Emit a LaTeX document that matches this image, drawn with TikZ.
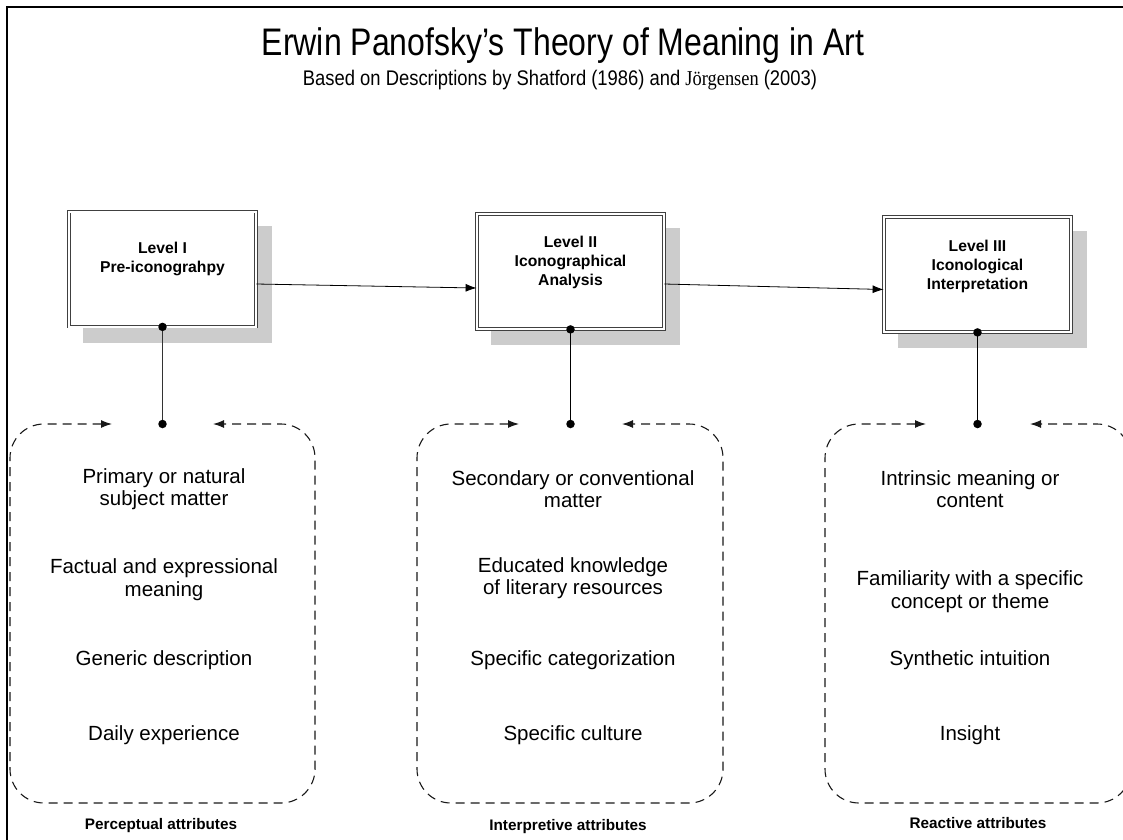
\documentclass[tikz,border=0pt]{standalone}
\usepackage{fontspec}
\setmainfont{Liberation Sans}
\newfontfamily\serifjf{Liberation Serif}
\usetikzlibrary{arrows.meta,calc}
\tikzset{
  levelbox/.style={draw=black!75, double=white, double distance=2pt, line width=0.8pt, fill=white, minimum width=187pt, minimum height=115pt, inner sep=0pt},
  shadowbox/.style={fill=black!20, draw=none, minimum width=189pt, minimum height=117pt, inner sep=0pt},
  leveltext/.style={font=\fontsize{15.7}{19}\selectfont\bfseries, align=center, inner sep=0pt},
  bodytext/.style={font=\fontsize{20.5}{22.5}\selectfont, align=center, inner sep=0pt},
  attrtext/.style={font=\fontsize{15.3}{18}\selectfont\bfseries, inner sep=0pt},
  flowarrow/.style={-{Latex[length=11pt,width=8pt]}, line width=0.8pt, black},
  dashbox/.style={{Latex[length=11pt,width=8pt]}-{Latex[length=11pt,width=8pt]}, dash pattern=on 9pt off 6pt, line width=1.1pt, black!90, rounded corners=34pt},
  dot/.style={circle, fill=black, inner sep=0pt, minimum size=8.5pt},
}
\begin{document}
\begin{tikzpicture}[x=1pt,y=-1pt]
\useasboundingbox (0,0) rectangle (1123,839);
% frame
\draw[line width=2pt] (7,860) -- (7,7) -- (1135,7);
% title
\node[font=\fontsize{32}{36}\selectfont, inner sep=0pt] (title) at (563,46) {\scalebox{1}[1.2]{Erwin Panofsky’s Theory of Meaning in Art}};
\node[font=\fontsize{18.4}{22}\selectfont, inner sep=0pt] (subtitle) at (560,80) {\scalebox{1}[1.15]{Based on Descriptions by Shatford (1986) and {\serifjf Jörgensen} (2003)}};
% shadows
\node[shadowbox] (s1) at (177.5,284) {};
\node[shadowbox] (s2) at (585.5,286.5) {};
\node[shadowbox] (s3) at (992.5,289.5) {};
% level boxes
\node[levelbox] (l1) at (162.5,269) {};
\node[levelbox] (l2) at (570.5,271.5) {};
\node[levelbox] (l3) at (977.5,274.5) {};
\node[leveltext] (t1) at (162.5,258.5) {Level I\\Pre-iconograhpy};
\node[leveltext] (t2) at (570.5,262) {Level II\\Iconographical\\Analysis};
\node[leveltext] (t3) at (977.5,266) {Level III\\Iconological\\Interpretation};
% flow arrows
\draw[flowarrow] ([yshift=-15pt]l1.east) -- ([yshift=-16.5pt]l2.west);
\draw[flowarrow] ([yshift=-12.5pt]l2.east) -- ([yshift=-15pt]l3.west);
% vertical connectors
\coordinate (d1) at (162.5,424);
\coordinate (d2) at (570.5,424);
\coordinate (d3) at (977.5,424);
\draw[line width=1pt, black!80] (l1.south) -- (d1);
\draw[line width=1pt] (l2.south) -- (d2);
\draw[line width=1pt] (l3.south) -- (d3);
\node[dot] (p1) at (l1.south) {};
\node[dot] (p2) at (l2.south) {};
\node[dot] (p3) at (l3.south) {};
\node[dot] (q1) at (d1) {};
\node[dot] (q2) at (d2) {};
\node[dot] (q3) at (d3) {};
% dashed boxes
\draw[dashbox] (112,424) -- (10,424) -- (10,803) -- (315,803) -- (315,424) -- (213,424);
\draw[dashbox] (519,424) -- (417,424) -- (417,803) -- (723,803) -- (723,424) -- (622,424);
\draw[dashbox] (926,424) -- (825,424) -- (825,803) -- (1131,803) -- (1131,424) -- (1030,424);
% box texts
\node[bodytext] (a1) at (164,489) {Primary or natural\\subject matter};
\node[bodytext] (a2) at (164,579.5) {Factual and expressional\\meaning};
\node[bodytext] (a3) at (164,660) {Generic description};
\node[bodytext] (a4) at (164,735) {Daily experience};
\node[bodytext] (b1) at (573,489) {Secondary or conventional\\matter};
\node[bodytext] (b2) at (573,578) {Educated knowledge\\of literary resources};
\node[bodytext] (b3) at (573,660) {Specific categorization};
\node[bodytext] (b4) at (573,735) {Specific culture};
\node[bodytext] (c1) at (970,489) {Intrinsic meaning or\\content};
\node[bodytext] (c2) at (970,591.5) {Familiarity with a specific\\concept or theme};
\node[bodytext] (c3) at (970,660) {Synthetic intuition};
\node[bodytext] (c4) at (970,735) {Insight};
% attribute labels
\node[attrtext] (r1) at (161,826) {Perceptual attributes};
\node[attrtext] (r2) at (568,827) {Interpretive attributes};
\node[attrtext] (r3) at (978,823) {Reactive attributes};
\end{tikzpicture}
\end{document}
